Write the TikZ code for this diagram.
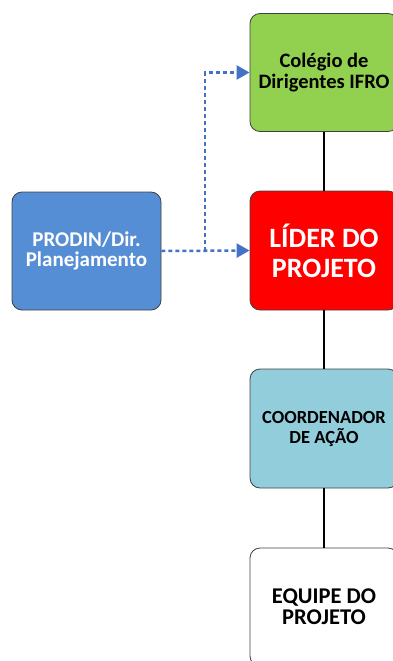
\documentclass[tikz,border=0pt]{standalone}
\usepackage{fontspec}
\setmainfont{Carlito}
\usetikzlibrary{arrows.meta}
\definecolor{prodinblue}{HTML}{558ED5}
\definecolor{greenbox}{HTML}{92D050}
\definecolor{cyanbox}{HTML}{92CDDC}
\definecolor{dotblue}{HTML}{4472C4}
\definecolor{edge}{HTML}{404040}
\begin{document}
\begin{tikzpicture}[x=1pt,y=-1pt,
  orgbox/.style={draw=edge, line width=0.8pt, rounded corners=10pt, minimum width=148pt, minimum height=118pt, align=center, inner sep=0pt, font=\bfseries},
  link/.style={line width=2.5pt, black},
  dotlink/.style={dotblue, line width=2.5pt, dash pattern=on 4pt off 3pt, -{Triangle[length=13pt,width=14pt]}}]
\useasboundingbox (0,0) rectangle (393,661);
\clip (0,0) rectangle (393,661);
\node[orgbox, fill=greenbox, font=\bfseries\fontsize{20.5}{21}\selectfont] (col) at (324,72.5) {Colégio de\\Dirigentes IFRO};
\node[orgbox, fill=red, text=white, minimum height=119pt, font=\bfseries\fontsize{28}{30}\selectfont] (lid) at (324,250.5) {LÍDER DO\\PROJETO};
\node[orgbox, fill=cyanbox, minimum height=119pt, font=\bfseries\fontsize{18.5}{20}\selectfont] (coo) at (324,428.5) {COORDENADOR\\DE AÇÃO};
\node[orgbox, fill=white, minimum height=118pt, font=\bfseries\fontsize{22.5}{21}\selectfont] (equ) at (324,607) {EQUIPE DO\\PROJETO};
\node[orgbox, fill=prodinblue, text=white, minimum width=149pt, font=\bfseries\fontsize{21}{20}\selectfont] (pro) at (86.5,251) {PRODIN/Dir.\\Planejamento};
\coordinate (br) at (205,251);
\draw[link] (col.south) -- (lid.north);
\draw[link] (lid.south) -- (coo.north);
\draw[link] (coo.south) -- (equ.north);
\draw[dotlink] (pro.east) -- (lid.west);
\draw[dotlink] (br) |- (col.west);
\end{tikzpicture}
\end{document}
